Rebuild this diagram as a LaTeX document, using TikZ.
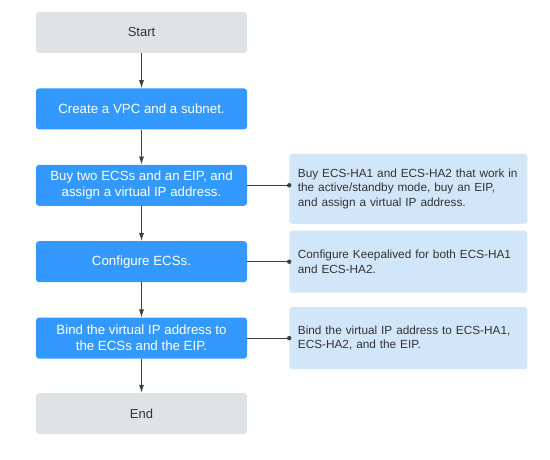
\documentclass[tikz,border=0pt]{standalone}
\usepackage{fontspec}
\setmainfont{Liberation Sans}
\usetikzlibrary{positioning,arrows.meta}
\definecolor{termgray}{HTML}{E0E3E6}
\definecolor{stepblue}{HTML}{3399FF}
\definecolor{noteblue}{HTML}{D2E6F9}
\definecolor{inkgray}{HTML}{333333}
\definecolor{linegray}{HTML}{404040}

\begin{document}
\begin{tikzpicture}[x=1pt,y=-1pt,
  term/.style={rectangle,rounded corners=3pt,fill=termgray,text=inkgray,minimum width=211pt,minimum height=41pt,font=\fontsize{13}{16}\selectfont},
  stepbox/.style={rectangle,rounded corners=3pt,fill=stepblue,text=white,minimum width=211pt,minimum height=41pt,align=center,font=\fontsize{13.3}{16}\selectfont},
  note/.style={rectangle,rounded corners=3pt,fill=noteblue,text=inkgray,minimum width=238pt,inner xsep=8.5pt,text width=221pt,align=left,font=\fontsize{11.8}{14.2}\selectfont},
  flow/.style={draw=linegray,line width=0.8pt,-{Latex[length=8pt,width=5pt]}},
  link/.style={draw=linegray,line width=0.8pt}]
  \useasboundingbox (0,0) rectangle (550,460);
  \node[term](start) at (141.5,32.5){Start};
  \node[stepbox,below=35pt of start](vpc){Create a VPC and a subnet.};
  \node[stepbox,below=35pt of vpc](buy){Buy two ECSs and an EIP, and\\assign a virtual IP address.};
  \node[stepbox,below=35pt of buy](conf){Configure ECSs.};
  \node[stepbox,below=35pt of conf](bind){Bind the virtual IP address to\\the ECSs and the EIP.};
  \node[term,below=34pt of bind](end){End};
  % notes on the right
  \node[note,minimum height=70pt,right=42pt of buy,yshift=-3.5pt](buynote){Buy ECS-HA1 and ECS-HA2 that work in\\the active/standby mode, buy an EIP,\\and assign a virtual IP address.};
  \node[note,minimum height=62pt,right=42pt of conf](confnote){Configure Keepalived for both ECS-HA1\\and ECS-HA2.};
  \node[note,minimum height=62pt,right=42pt of bind](bindnote){Bind the virtual IP address to ECS-HA1,\\ECS-HA2, and the EIP.};
  \draw[flow] (start) -- (vpc);
  \draw[flow] (vpc) -- (buy);
  \draw[flow] (buy) -- (conf);
  \draw[flow] (conf) -- (bind);
  \draw[flow] (bind) -- (end);
  \foreach \s/\n in {buy/buynote,conf/confnote,bind/bindnote}{
    \coordinate (\n dot) at (\s.east -| \n.west);
    \draw[link] (\s.east) -- (\n dot);
    \fill[linegray] (\n dot) circle (2.2pt);
  }
\end{tikzpicture}
\end{document}
